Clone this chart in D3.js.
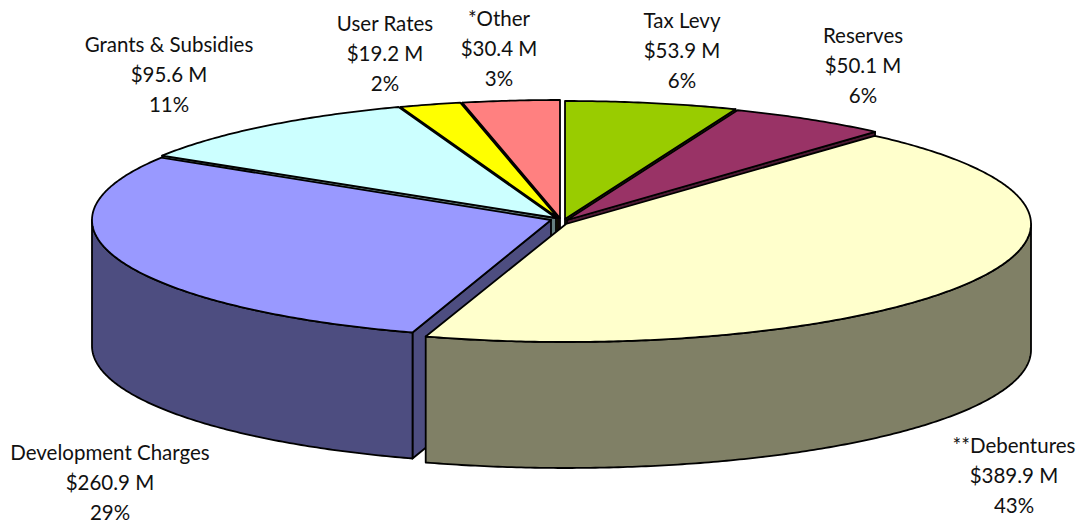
<!DOCTYPE html>
<html><head><meta charset="utf-8">
<script src="https://cdn.jsdelivr.net/npm/d3@7/dist/d3.min.js"></script>
<style>html,body{margin:0;padding:0;background:#fff}svg{display:block}
text{font-family:Lato,"Open Sans",sans-serif;font-size:20.5px;fill:#111;text-anchor:middle}</style>
</head><body><svg id="c" width="1081" height="525"></svg>
<script>
// Data, clockwise from 12 o'clock
const categories = ["Tax Levy","Reserves","**Debentures","Development Charges","Grants & Subsidies","User Rates","*Other"];
const amounts = [53.9,50.1,389.9,260.9,95.6,19.2,30.4];
const percents = ["6%","6%","43%","29%","11%","2%","3%"];
// Styles
const topColors = ["#99CC00","#993366","#FFFFCC","#9999FF","#CCFFFF","#FFFF00","#FF8080"];
const sideColors = ["#4D6600","#4D1A33","#808066","#4D4D80","#668080","#808000","#804040"];
// Exploded apex of each slice and label anchor
const apexX = [565,567,566,551,556,558,560];
const apexY = [219,220,224,220,218,218,218];
const radiusX = [464,464,465,459,464,464,464];
const labelX = [682,863,1014,110,169,385,499];
const labelY = [28,43,453,460,52,31,26];
const ry = 118, depth = 126;
const drawOrder = [0,6,5,4,1,3,2];

const svg = d3.select("#c");
const arcs = d3.pie().sort(null).value(d=>d).startAngle(0).endAngle(2*Math.PI)(amounts);
const fmt = v => "$" + d3.format(".1f")(v) + " M";

const pts = (i,a0,a1,dy=0) => {
  const sx = d3.scaleLinear().domain([-1,1]).range([apexX[i]-radiusX[i],apexX[i]+radiusX[i]]);
  const sy = d3.scaleLinear().domain([-1,1]).range([apexY[i]-ry,apexY[i]+ry]);
  const n = Math.max(2,Math.ceil((a1-a0)/0.01));
  return d3.range(n+1).map(k=>{const a=a0+(a1-a0)*k/n;return [sx(Math.sin(a)),sy(-Math.cos(a))+dy];});
};
const line = d3.line();
const poly = p => line(p)+"Z";
const strokeStyle = s => s.attr("stroke","#000").attr("stroke-width",1.8).attr("stroke-linejoin","round");

drawOrder.forEach(i=>{
  const d = arcs[i], g = svg.append("g");
  const c=[apexX[i],apexY[i]];
  // radial cut faces: only those turned toward the viewer
  const faces=[];
  if(Math.sin(d.startAngle)<-1e-6) faces.push(pts(i,d.startAngle,d.startAngle)[0]);
  if(Math.sin(d.endAngle)>1e-6) faces.push(pts(i,d.endAngle,d.endAngle)[0]);
  faces.forEach(r=>{
    g.append("path").attr("d",poly([c,r,[r[0],r[1]+depth],[c[0],c[1]+depth]]))
      .attr("fill",sideColors[i]).call(strokeStyle);
  });
  // outer wall, front half of the ellipse only
  const a0=Math.max(d.startAngle,Math.PI/2), a1=Math.min(d.endAngle,3*Math.PI/2);
  if(a1>a0){
    const up=pts(i,a0,a1), down=pts(i,a0,a1,depth).reverse();
    g.append("path").attr("d",poly(up.concat(down))).attr("fill",sideColors[i]).call(strokeStyle);
  }
  // top face
  g.append("path").attr("d",poly([c].concat(pts(i,d.startAngle,d.endAngle))))
    .attr("fill",topColors[i]).call(strokeStyle);
});

categories.forEach((name,i)=>{
  const t = svg.append("text").attr("x",labelX[i]).attr("y",labelY[i]);
  [name,fmt(amounts[i]),percents[i]].forEach((s,k)=>{
    t.append("tspan").attr("x",labelX[i]).attr("dy",k?30:0).text(s);
  });
});
</script></body></html>
